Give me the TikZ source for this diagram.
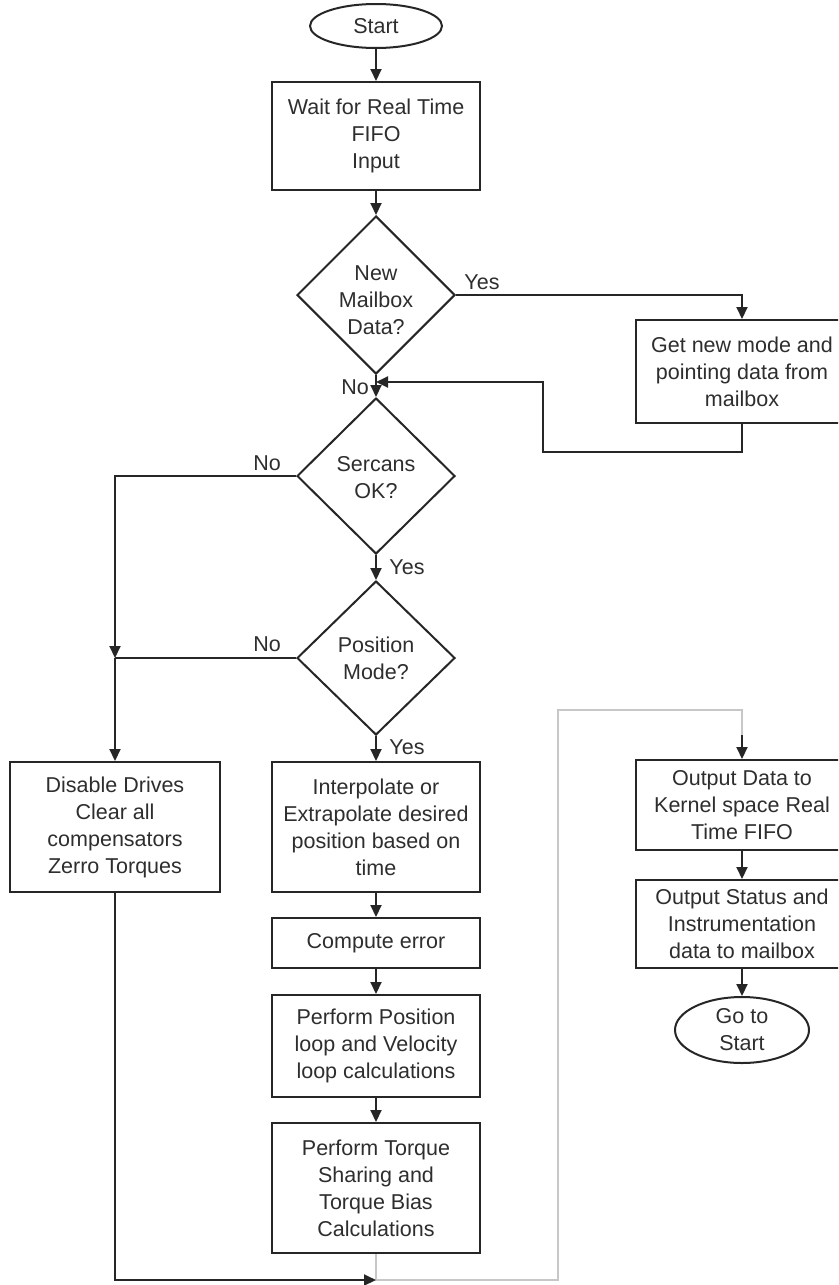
\documentclass[tikz,border=0pt]{standalone}
\usepackage{fontspec}
\setmainfont{Liberation Sans}
\usetikzlibrary{shapes.geometric,arrows.meta}
\begin{document}
\begin{tikzpicture}[x=1pt,y=-1pt,
  every node/.style={font=\fontsize{21.5}{27}\selectfont, text=black!82},
  box/.style={draw=black!85, line width=2pt, rectangle, align=center,
    inner sep=0pt, fill=white},
  term/.style={draw=black!85, line width=2pt, ellipse, inner sep=0pt, fill=white},
  dia/.style={draw=black!85, line width=2pt, diamond, inner sep=0pt, fill=white},
  txt/.style={align=center, inner sep=0pt},
  lbl/.style={inner sep=0pt},
  arr/.style={draw=black!85, line width=2pt, -{Triangle[length=12pt,width=11pt]}},
  plain/.style={draw=black!85, line width=2pt},
  faint/.style={draw=black!22, line width=1.3pt}
]
\useasboundingbox (0,0) rectangle (838,1285);
\clip (0,0) rectangle (838,1285);

% main column
\node[term, minimum width=132pt, minimum height=44pt] (start) at (376,26) {};
\node[txt] (startt) at (start) {Start};
\node[box, minimum width=208pt, minimum height=108pt] (wait) at (376,136)
  {Wait for Real Time\\FIFO\\Input};
\node[dia, minimum width=158pt, minimum height=158pt] (d1) at (376,295) {};
\node[txt] (d1t) at (376,300) {New\\Mailbox\\Data?};
\node[dia, minimum width=158pt, minimum height=156pt] (d2) at (376,476) {};
\node[txt] (d2t) at (376,478) {Sercans\\OK?};
\node[dia, minimum width=158pt, minimum height=154pt] (d3) at (376,658) {};
\node[txt] (d3t) at (376,658) {Position\\Mode?};

\node[box, minimum width=212pt, minimum height=103pt] (getnew) at (742,371.5)
  {Get new mode and\\pointing data from\\mailbox};

\node[box, minimum width=210pt, minimum height=130pt] (disable) at (115,827)
  {Disable Drives\\Clear all\\compensators\\Zerro Torques};
\node[box, minimum width=208pt, minimum height=130pt] (interp) at (376,827)
  {Interpolate or\\Extrapolate desired\\position based on\\time};
\node[box, minimum width=208pt, minimum height=50pt] (compute) at (376,943)
  {Compute error};
\node[box, minimum width=208pt, minimum height=102pt] (perfpos) at (376,1046)
  {Perform Position\\loop and Velocity\\loop calculations};
\node[box, minimum width=208pt, minimum height=130pt] (torque) at (376,1188)
  {Perform Torque\\Sharing and\\Torque Bias\\Calculations};

% output column
\node[box, minimum width=212pt, minimum height=90pt] (outdata) at (742,805)
  {Output Data to\\Kernel space Real\\Time FIFO};
\node[box, minimum width=212pt, minimum height=88pt] (outstat) at (742,924)
  {Output Status and\\Instrumentation\\data to mailbox};
\node[term, minimum width=134pt, minimum height=66pt] (goto) at (742,1030) {};
\node[txt] (gotot) at (goto) {Go to\\Start};

% branch labels
\node[lbl] (yes1) at (482,282) {Yes};
\node[lbl] (no1) at (355,387) {No};
\node[lbl] (no2) at (267,463) {No};
\node[lbl] (yes2) at (407,567) {Yes};
\node[lbl] (no3) at (267,644) {No};
\node[lbl] (yes3) at (407,747) {Yes};

% junction points
\coordinate (fbA) at (543,452);
\coordinate (j1) at (376,382);
\coordinate (jl) at (disable.north |- d3.west);
\coordinate (jb) at (376,1280);
\coordinate (gc) at (558,710);
\coordinate (gd) at (742,735);

% return path from the control computations to the output stage
\draw[faint] (torque.south) -- (jb) -| (gc) -| (gd);

% connectors
\draw[arr] (start) -- (wait);
\draw[arr] (wait) -- (d1.north);
\draw[arr] (d1.east) -| (getnew.north);
\draw[arr] (d1.south) -- (d2.north);
\draw[arr] (getnew.south) |- (fbA) |- (j1);
\draw[arr] (d2.west) -| (jl);
\draw[plain] (d3.west) -- (jl);
\draw[arr] (jl) -- (disable.north);
\draw[arr] (d2.south) -- (d3.north);
\draw[arr] (d3.south) -- (interp.north);
\draw[arr] (interp) -- (compute);
\draw[arr] (compute) -- (perfpos);
\draw[arr] (perfpos) -- (torque);
\draw[arr] (disable.south) |- (jb);
\draw[arr] (gd) -- (outdata.north);
\draw[arr] (outdata) -- (outstat);
\draw[arr] (outstat) -- (goto);
\end{tikzpicture}
\end{document}
